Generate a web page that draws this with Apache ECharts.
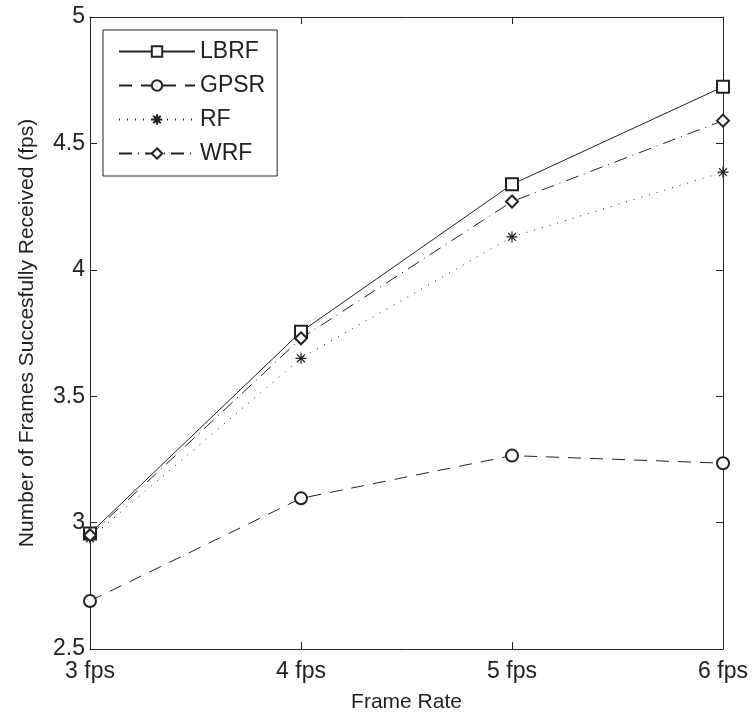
<!DOCTYPE html>
<html>
<head>
<meta charset="utf-8">
<script src="https://cdn.jsdelivr.net/npm/echarts@6/dist/echarts.min.js"></script>
<style>html,body{margin:0;padding:0;background:#fff;}#c{width:753px;height:714px;}</style>
</head>
<body>
<div id="c"></div>
<script>
const categories = ['3 fps', '4 fps', '5 fps', '6 fps'];
const lbrf = [2.957, 3.755, 4.338, 4.724];
const gpsr = [2.69, 3.096, 3.265, 3.235];
const rf = [2.938, 3.65, 4.13, 4.386];
const wrf = [2.95, 3.729, 4.27, 4.59];
const yTicks = [2.5, 3, 3.5, 4, 4.5, 5];

const C = '#222222';
const FONT = 'Liberation Sans, Arial, sans-serif';
const starPath = 'path://M0,-6L0,6M-6,0L6,0M-4.3,-4.3L4.3,4.3M-4.3,4.3L4.3,-4.3';

function mk(name, data, symbol, size, lineType, stroked) {
  return {
    name: name, type: 'line', data: data, xAxisIndex: 0, yAxisIndex: 0,
    symbol: symbol, symbolSize: size, showAllSymbol: true, clip: false,
    lineStyle: { color: C, width: 1, type: lineType },
    itemStyle: stroked ? { color: C, borderColor: C, borderWidth: 1.2 } : { color: C },
    emphasis: { disabled: true }, animation: false
  };
}

const chart = echarts.init(document.getElementById('c'), null, { renderer: 'canvas' });
chart.setOption({
  animation: false,
  backgroundColor: '#fff',
  grid: { left: 90, right: 30, top: 17, bottom: 65, containLabel: false, outerBoundsMode: 'none' },
  legend: {
    orient: 'vertical', left: 103, top: 30,
    padding: [10, 12, 11, 15], itemGap: 11,
    itemWidth: 76, itemHeight: 13,
    borderColor: C, borderWidth: 1, backgroundColor: '#fff',
    textStyle: { fontFamily: FONT, fontSize: 23, color: C },
    data: ['LBRF', 'GPSR', 'RF', 'WRF']
  },
  xAxis: [{
    type: 'category', data: categories, boundaryGap: false, position: 'bottom',
    axisLine: { lineStyle: { color: C, width: 1 } },
    axisTick: { inside: true, length: 7, alignWithLabel: true, lineStyle: { color: C } },
    axisLabel: { fontFamily: FONT, fontSize: 23, color: C, margin: 11 },
    splitLine: { show: false },
    name: 'Frame Rate', nameLocation: 'middle', nameGap: 43,
    nameTextStyle: { fontFamily: FONT, fontSize: 21, color: C }
  }, {
    type: 'category', data: categories, boundaryGap: false, position: 'top',
    axisLine: { lineStyle: { color: C, width: 1 } },
    axisTick: { inside: true, length: 7, lineStyle: { color: C } },
    axisLabel: { show: false }, splitLine: { show: false }
  }],
  yAxis: [{
    type: 'value', min: 2.5, max: 5, interval: 0.5, position: 'left',
    axisLine: { show: true, lineStyle: { color: C, width: 1 } },
    axisTick: { show: true, inside: true, length: 7, lineStyle: { color: C } },
    axisLabel: { fontFamily: FONT, fontSize: 23, color: C, margin: 5,
      formatter: function (v) { return yTicks.indexOf(v) >= 0 ? String(v) : ''; } },
    splitLine: { show: false },
    name: 'Number of Frames Succesfully Received (fps)', nameLocation: 'middle', nameGap: 52,
    nameTextStyle: { fontFamily: FONT, fontSize: 21, color: C }
  }, {
    type: 'value', min: 2.5, max: 5, interval: 0.5, position: 'right',
    axisLine: { show: true, lineStyle: { color: C, width: 1 } },
    axisTick: { show: true, inside: true, length: 7, lineStyle: { color: C } },
    axisLabel: { show: false }, splitLine: { show: false }
  }],
  series: [
    mk('LBRF', lbrf, 'emptyRect', 12, 'solid', false),
    mk('GPSR', gpsr, 'emptyCircle', 12, [13, 9], false),
    mk('RF', rf, starPath, 11, [1, 7], true),
    mk('WRF', wrf, 'emptyDiamond', 12, [13, 6, 1, 6], false)
  ]
});
</script>
</body>
</html>
